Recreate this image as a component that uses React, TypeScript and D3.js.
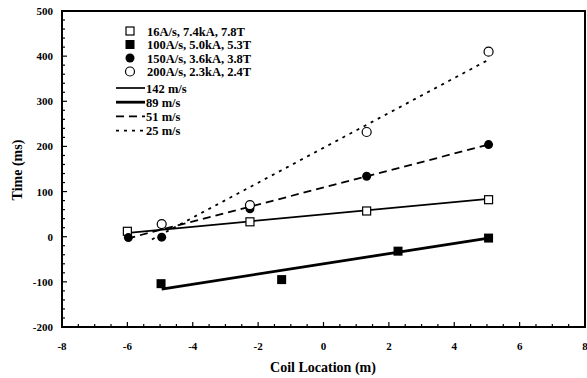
import React from "react";
import * as d3 from "d3";

// measured points, coil location (m) vs time (ms)
const ramp16 = [[-6, 12], [-2.25, 33], [1.32, 57], [5.05, 82]];
const ramp100 = [[-4.97, -104], [-1.28, -95], [2.28, -32], [5.05, -3]];
const ramp150 = [[-5.97, -2], [-4.95, -1], [-2.25, 62], [1.32, 134], [5.05, 204]];
const ramp200 = [[-4.95, 28], [-2.25, 70], [1.32, 232], [5.05, 410]];

// fitted propagation lines
const fit142 = [[-6.05, 8], [5.05, 84]];
const fit89 = [[-4.95, -116], [5.05, -3]];
const fit51 = [[-6.0, -4], [5.05, 204]];
const fit25 = [[-5.25, -6], [5.05, 392]];

const xTicks = [-8, -6, -4, -2, 0, 2, 4, 6, 8];
const yTicks = [-200, -100, 0, 100, 200, 300, 400, 500];

const seriesLabels = [
  "16A/s,  7.4kA, 7.8T",
  "100A/s, 5.0kA, 5.3T",
  "150A/s, 3.6kA, 3.8T",
  "200A/s, 2.3kA, 2.4T",
];
const lineLabels = ["142 m/s", "89 m/s", "51 m/s", "25 m/s"];

const W = 587;
const H = 378;
const font = "'Liberation Serif', 'DejaVu Serif', serif";

const x = d3.scaleLinear().domain([-8, 8]).range([62, 585]);
const y = d3.scaleLinear().domain([-200, 500]).range([327, 11]);
const line = d3.line<number[]>().x((d) => x(d[0])).y((d) => y(d[1]));

const lineStyles = [
  { w: 1.7, dash: undefined },
  { w: 2.8, dash: undefined },
  { w: 1.8, dash: "8,5" },
  { w: 1.8, dash: "3,5" },
];

function Marker({ kind, cx, cy }: { kind: number; cx: number; cy: number }) {
  if (kind === 0)
    return <rect x={cx - 4} y={cy - 4} width={8} height={8} fill="#fff" stroke="#000" strokeWidth={1.2} />;
  if (kind === 1) return <rect x={cx - 4.5} y={cy - 4.5} width={9} height={9} fill="#000" />;
  if (kind === 2) return <circle cx={cx} cy={cy} r={4.5} fill="#000" />;
  return <circle cx={cx} cy={cy} r={4.5} fill="#fff" stroke="#000" strokeWidth={1.2} />;
}

export default function App() {
  const minorX = d3.range(-8, 8.01, 0.5);
  const minorY = d3.range(-200, 500.1, 20);
  const fits = [fit142, fit89, fit51, fit25];
  const series = [ramp16, ramp100, ramp150, ramp200];

  return (
    <svg width={W} height={H} style={{ position: "absolute", left: 0, top: 0, background: "#fff" }}>
      {/* frame */}
      <rect x={x(-8)} y={y(500)} width={x(8) - x(-8)} height={y(-200) - y(500)} fill="none" stroke="#000" strokeWidth={2} />

      {/* inward ticks */}
      {minorX.map((v) => (
        <line key={"mx" + v} x1={x(v)} x2={x(v)} y1={y(-200)} y2={y(-200) - (v % 2 === 0 ? 5 : 3)} stroke="#000" strokeWidth={1.2} />
      ))}
      {minorY.map((v) => (
        <line key={"my" + v} x1={x(-8)} x2={x(-8) + (v % 100 === 0 ? 5 : 3)} y1={y(v)} y2={y(v)} stroke="#000" strokeWidth={1.2} />
      ))}

      {xTicks.map((v) => (
        <text key={"xt" + v} x={x(v)} y={350} textAnchor="middle" fontFamily={font} fontWeight="bold" fontSize={11}>
          {v}
        </text>
      ))}
      {yTicks.map((v) => (
        <text key={"yt" + v} x={53} y={y(v) + 4} textAnchor="end" fontFamily={font} fontWeight="bold" fontSize={11}>
          {v}
        </text>
      ))}

      <text x={323} y={372} textAnchor="middle" fontFamily={font} fontWeight="bold" fontSize={14}>
        Coil Location (m)
      </text>
      <text transform="translate(22,170) rotate(-90)" textAnchor="middle" fontFamily={font} fontWeight="bold" fontSize={14}>
        Time (ms)
      </text>

      {/* fitted lines */}
      {fits.map((f, i) => (
        <path key={"f" + i} d={line(f) || ""} fill="none" stroke="#000" strokeWidth={lineStyles[i].w} strokeDasharray={lineStyles[i].dash} />
      ))}

      {/* markers */}
      {series.map((s, k) =>
        s.map((p, j) => <Marker key={k + "-" + j} kind={k} cx={x(p[0])} cy={y(p[1])} />)
      )}

      {/* legend */}
      {seriesLabels.map((t, i) => (
        <g key={"ls" + i}>
          <Marker kind={i} cx={130} cy={31 + i * 13.5} />
          <text x={147} y={35.5 + i * 13.5} fontFamily={font} fontWeight="bold" fontSize={12.5}>
            {t}
          </text>
        </g>
      ))}
      {lineLabels.map((t, i) => (
        <g key={"ll" + i}>
          <line x1={116} x2={145} y1={88 + i * 14.2} y2={88 + i * 14.2} stroke="#000" strokeWidth={lineStyles[i].w} strokeDasharray={lineStyles[i].dash} />
          <text x={146} y={92.5 + i * 14.2} fontFamily={font} fontWeight="bold" fontSize={12.5}>
            {t}
          </text>
        </g>
      ))}
    </svg>
  );
}
